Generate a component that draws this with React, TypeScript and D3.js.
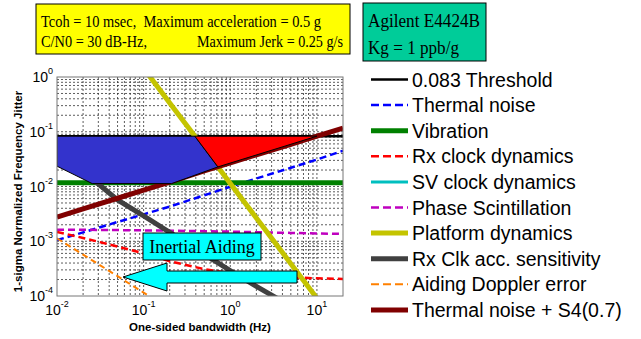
import * as d3 from "d3";

// bandwidth samples (Hz) shared by every series
const bandwidth = [0.01, 0.02, 0.05, 0.1, 0.2, 0.5, 1, 2, 5, 10, 20];

const threshold = [0.083, 0.083, 0.083, 0.083, 0.083, 0.083, 0.083, 0.083, 0.083, 0.083, 0.083];
const thermalNoise = [1.05e-3, 1.45e-3, 2.25e-3, 3.1e-3, 4.3e-3, 6.9e-3, 9.9e-3, 0.014, 0.022, 0.031, 0.045];
const vibration = [0.0117, 0.0117, 0.0117, 0.0117, 0.0117, 0.0117, 0.0117, 0.0117, 0.0117, 0.0117, 0.0117];
const rxClockDyn = [1.48e-3, 1.15e-3, 8e-4, 6e-4, 4.3e-4, 3.1e-4, 2.6e-4, 2.35e-4, 2.2e-4, 2.1e-4, 2.05e-4];
const svClockDyn = [3e-5, 2.5e-5, 2e-5, 1.8e-5, 1.6e-5, 1.5e-5, 1.4e-5, 1.4e-5, 1.3e-5, 1.3e-5, 1.3e-5];
const phaseScint = [1.63e-3, 1.62e-3, 1.6e-3, 1.58e-3, 1.56e-3, 1.53e-3, 1.5e-3, 1.46e-3, 1.42e-3, 1.39e-3, 1.36e-3];
const platformDyn = [181, 42.4, 6.17, 1.44, 0.336, 0.0494, 0.0114, 2.66e-3, 3.9e-4, 9.1e-5, 2.1e-5];
const rxClkAcc = [0.045, 0.019, 5.7e-3, 2.9e-3, 1.45e-3, 5.8e-4, 2.9e-4, 1.5e-4, 6.5e-5, 3.2e-5, 1.6e-5];
const aidingDoppler = [1.13e-3, 5.7e-4, 2.3e-4, 1.15e-4, 5.8e-5, 2.3e-5, 1.2e-5, 6e-6, 2.4e-6, 1.2e-6, 6e-7];
const thermalS4 = [2.77e-3, 3.9e-3, 6.1e-3, 8.6e-3, 0.012, 0.0192, 0.027, 0.038, 0.059, 0.083, 0.117];

// shaded regions, [bandwidth, jitter] corners
const blueRegion: [number, number][] = [
  [0.01, 0.083], [0.39, 0.083], [0.72, 0.0228], [0.21, 0.0113], [0.0255, 0.0113], [0.01, 0.0235],
];
const redRegion: [number, number][] = [[0.39, 0.083], [10, 0.083], [0.72, 0.0228]];

const xTicks = [0.01, 0.1, 1, 10];
const xExp = ["-2", "-1", "0", "1"];
const yTicks = [1e-4, 1e-3, 1e-2, 1e-1, 1];
const yExp = ["-4", "-3", "-2", "-1", "0"];

const series = [
  { name: "0.083 Threshold", values: threshold, color: "#000000", w: 2.5, dash: "" },
  { name: "Thermal noise", values: thermalNoise, color: "#0000ff", w: 2.5, dash: "7,4" },
  { name: "Vibration", values: vibration, color: "#008000", w: 5, dash: "" },
  { name: "Rx clock dynamics", values: rxClockDyn, color: "#ff0000", w: 2.5, dash: "7,4" },
  { name: "SV clock dynamics", values: svClockDyn, color: "#00bfbf", w: 3, dash: "" },
  { name: "Phase Scintillation", values: phaseScint, color: "#bf00bf", w: 2.5, dash: "7,4" },
  { name: "Platform dynamics", values: platformDyn, color: "#c4c400", w: 5, dash: "" },
  { name: "Rx Clk acc. sensitivity", values: rxClkAcc, color: "#404040", w: 5, dash: "" },
  { name: "Aiding Doppler error", values: aidingDoppler, color: "#ff8000", w: 2, dash: "6,4" },
  { name: "Thermal noise + S4(0.7)", values: thermalS4, color: "#800000", w: 5, dash: "" },
];

const W = 641;
const H = 339;
const plot = { left: 57, right: 343, top: 77, bottom: 296 };

export default function App() {
  const x = d3.scaleLog().domain([0.01, 20]).range([plot.left, plot.right]);
  const y = d3.scaleLog().domain([1e-4, 1]).range([plot.bottom, plot.top]);

  const line = d3
    .line<number>()
    .x((_, i) => x(bandwidth[i]))
    .y((d) => y(d));

  const area = (pts: [number, number][]) =>
    "M" + pts.map(([a, b]) => `${x(a)},${y(b)}`).join("L") + "Z";

  const xGrid = x.ticks().filter((t) => t > 0.01 && t < 20);
  const yGrid = y.ticks().filter((t) => t > 1e-4 && t < 1);

  return (
    <svg
      width={W}
      height={H}
      style={{ position: "absolute", left: 0, top: 0, background: "#fff" }}
      fontFamily="Liberation Sans, Arial, sans-serif"
    >
      <defs>
        <clipPath id="plotClip">
          <rect x={plot.left} y={plot.top} width={plot.right - plot.left} height={plot.bottom - plot.top} />
        </clipPath>
      </defs>

      {/* grid */}
      <g stroke="#333" strokeWidth={0.8} strokeDasharray="2,2">
        {xGrid.map((t) => (
          <line key={`gx${t}`} x1={x(t)} x2={x(t)} y1={plot.top} y2={plot.bottom} />
        ))}
        {yGrid.map((t) => (
          <line key={`gy${t}`} x1={plot.left} x2={plot.right} y1={y(t)} y2={y(t)} />
        ))}
      </g>

      {/* series */}
      <g clipPath="url(#plotClip)" fill="none">
        {series.map((s) => (
          <path
            key={s.name}
            d={line(s.values) || ""}
            stroke={s.color}
            strokeWidth={s.w}
            strokeDasharray={s.dash || undefined}
          />
        ))}
        <path d={area(blueRegion)} fill="#3333cc" stroke="#000" strokeWidth={1} />
        <path d={area(redRegion)} fill="#ff0000" stroke="#000" strokeWidth={1} />
      </g>

      <rect
        x={plot.left}
        y={plot.top}
        width={plot.right - plot.left}
        height={plot.bottom - plot.top}
        fill="none"
        stroke="#777"
        strokeWidth={1}
      />

      {/* tick labels */}
      <g fontSize={14} fill="#000">
        {xTicks.map((t, i) => (
          <text key={`xt${t}`} x={x(t)} y={315} textAnchor="middle">
            10<tspan fontSize={9} dy={-8}>{xExp[i]}</tspan>
          </text>
        ))}
        {yTicks.map((t, i) => (
          <text key={`yt${t}`} x={plot.left - 4} y={y(t) + 5} textAnchor="end">
            10<tspan fontSize={9} dy={-8}>{yExp[i]}</tspan>
          </text>
        ))}
      </g>

      <text x={200} y={331} textAnchor="middle" fontSize={11.5} fontWeight="bold">
        One-sided bandwidth (Hz)
      </text>
      <text
        transform={`translate(22, ${(plot.top + plot.bottom) / 2 + 5}) rotate(-90)`}
        textAnchor="middle"
        fontSize={11.5}
        fontWeight="bold"
      >
        1-sigma Normalized Frequency Jitter
      </text>

      {/* Inertial aiding annotation */}
      <rect x={143} y={233} width={118} height={27} fill="#00ffff" stroke="#000" strokeWidth={1} />
      <text x={202} y={253} textAnchor="middle" fontSize={18} fontFamily="Liberation Serif, Times New Roman, serif">
        Inertial Aiding
      </text>
      <polygon
        points="123,277 167,263 167,271 297,271 297,283 167,283 167,291"
        fill="#00ffff"
        stroke="#000"
        strokeWidth={1}
      />

      {/* header boxes */}
      <g fontFamily="Liberation Serif, Times New Roman, serif">
        <rect x={36} y={4} width={314} height={50} fill="#ffff00" stroke="#000" strokeWidth={1} />
        <text x={41} y={27} fontSize={17} textLength={280} lengthAdjust="spacingAndGlyphs">
          {"Tcoh = 10 msec,\u00a0 Maximum acceleration = 0.5 g"}
        </text>
        <text x={41} y={47} fontSize={17} textLength={106} lengthAdjust="spacingAndGlyphs">
          C/N0 = 30 dB-Hz,
        </text>
        <text x={343} y={47} fontSize={17} textAnchor="end" textLength={146} lengthAdjust="spacingAndGlyphs">
          Maximum Jerk = 0.25 g/s
        </text>

        <rect x={363} y={3} width={123} height={58} fill="#00cc99" stroke="#000" strokeWidth={1} />
        <text x={368} y={27} fontSize={18} textLength={112} lengthAdjust="spacingAndGlyphs">
          Agilent E4424B
        </text>
        <text x={368} y={54} fontSize={18} textLength={91} lengthAdjust="spacingAndGlyphs">
          Kg = 1 ppb/g
        </text>
      </g>

      {/* legend */}
      <g>
        {series.map((s, i) => {
          const ly = 79.5 + i * 25.6;
          return (
            <g key={`lg${s.name}`}>
              <line
                x1={371}
                x2={408}
                y1={ly}
                y2={ly}
                stroke={s.color}
                strokeWidth={s.w}
                strokeDasharray={s.dash ? "8,4" : undefined}
              />
              <text x={412} y={ly + 7} fontSize={19.5}>
                {s.name}
              </text>
            </g>
          );
        })}
      </g>
    </svg>
  );
}
